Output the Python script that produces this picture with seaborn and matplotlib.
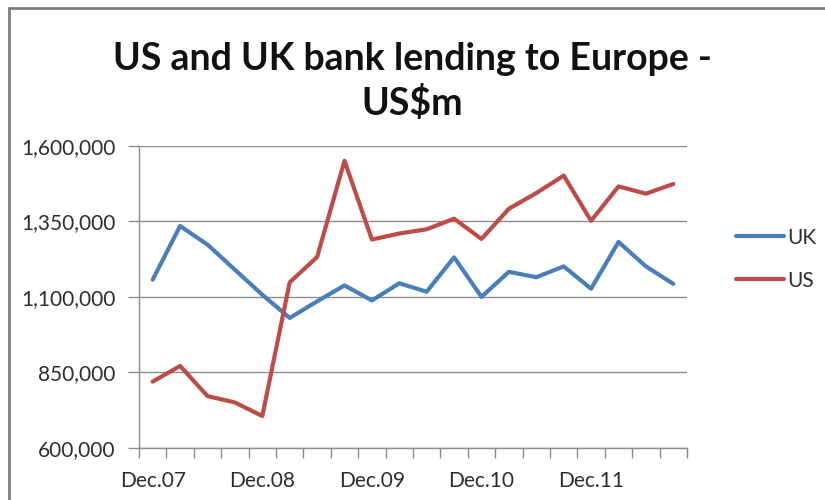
import matplotlib
matplotlib.use("Agg")
import matplotlib.pyplot as plt
from matplotlib.lines import Line2D
from matplotlib.ticker import FuncFormatter, FixedLocator
import seaborn as sns
import pandas as pd

# Quarterly bank lending to Europe, US$m
quarters = ["Dec.07", "Mar.08", "Jun.08", "Sep.08",
            "Dec.08", "Mar.09", "Jun.09", "Sep.09",
            "Dec.09", "Mar.10", "Jun.10", "Sep.10",
            "Dec.10", "Mar.11", "Jun.11", "Sep.11",
            "Dec.11", "Mar.12", "Jun.12", "Sep.12"]
uk = [1157000, 1335000, 1273000, 1190000, 1107000, 1030000, 1085000, 1138000,
      1088000, 1145000, 1117000, 1231000, 1100000, 1183000, 1165000, 1201000,
      1127000, 1282000, 1201000, 1143000]
us = [819000, 871000, 771000, 750000, 705000, 1148000, 1232000, 1551000,
      1290000, 1310000, 1324000, 1359000, 1292000, 1392000, 1444000, 1502000,
      1352000, 1466000, 1442000, 1474000]
series_names = ["UK", "US"]
palette = {"UK": "#4A7EBB", "US": "#BE4B48"}
yticks = [600000, 850000, 1100000, 1350000, 1600000]
label_every = 4

df = pd.DataFrame({
    "quarter": quarters * 2,
    "pos": list(range(len(quarters))) * 2,
    "value": uk + us,
    "series": ["UK"] * len(uk) + ["US"] * len(us),
})

sns.set_theme(style="white")
plt.rcParams["font.family"] = ["Lato", "DejaVu Sans"]

fig = plt.figure(figsize=(8.25, 5.0), dpi=100)
ax = fig.add_axes([139 / 825, 1 - 447.7 / 500, (687 - 139) / 825, (447.7 - 146) / 500])

sns.lineplot(data=df, x="pos", y="value", hue="series", hue_order=series_names,
             palette=palette, linewidth=3.0, ax=ax, legend=True)

grid_c = "#8c8c8c"
text_c = "#2e2e2e"

ax.set_xlim(-0.5, len(quarters) - 0.5)
ax.set_ylim(yticks[0], yticks[-1])
ax.set_yticks(yticks)
ax.yaxis.set_major_formatter(FuncFormatter(lambda v, p: f"{int(v):,}"))
ax.yaxis.grid(True, color=grid_c, linewidth=1.0)
ax.set_axisbelow(True)

# category labels at quarter centres, boundary ticks between quarters
label_pos = list(range(0, len(quarters), label_every))
ax.xaxis.set_major_locator(FixedLocator(label_pos))
ax.set_xticklabels([quarters[i] for i in label_pos])
ax.xaxis.set_minor_locator(FixedLocator([i - 0.5 for i in range(len(quarters) + 1)]))
ax.tick_params(axis="x", which="major", length=0, pad=17, labelsize=15, labelcolor=text_c)
ax.tick_params(axis="x", which="minor", length=7, width=1.0, color=grid_c, direction="out", bottom=True)
ax.tick_params(axis="y", which="major", length=8, width=1.0, color=grid_c, direction="out",
               left=True, pad=9, labelsize=15, labelcolor=text_c)

for side in ["top", "right"]:
    ax.spines[side].set_visible(False)
for side in ["left", "bottom"]:
    ax.spines[side].set_color(grid_c)
    ax.spines[side].set_linewidth(1.0)

ax.set_xlabel("")
ax.set_ylabel("")

leg = ax.legend(loc="center left", bbox_to_anchor=(1.055, 0.625), frameon=False,
                handlelength=2.3, handletextpad=0.15, labelspacing=1.1,
                fontsize=15)
for t in leg.get_texts():
    t.set_color(text_c)
for h in leg.get_lines():
    h.set_linewidth(3.0)

fig.text(0.5, 1 - 59 / 500, "US and UK bank lending to Europe -", ha="center", va="center",
         fontsize=27, fontweight="bold", color="#111111")
fig.text(0.5, 1 - 103 / 500, "US$m", ha="center", va="center",
         fontsize=27, fontweight="bold", color="#111111")

# chart frame (top and left edges)
fig.add_artist(Line2D([9 / 825, 9 / 825], [0, 1 - 8 / 500], transform=fig.transFigure,
                      color="#7f7f7f", linewidth=2.0))
fig.add_artist(Line2D([9 / 825, 1], [1 - 8 / 500, 1 - 8 / 500], transform=fig.transFigure,
                      color="#7f7f7f", linewidth=2.0))

fig.savefig("out.png", dpi=100, facecolor="white")
